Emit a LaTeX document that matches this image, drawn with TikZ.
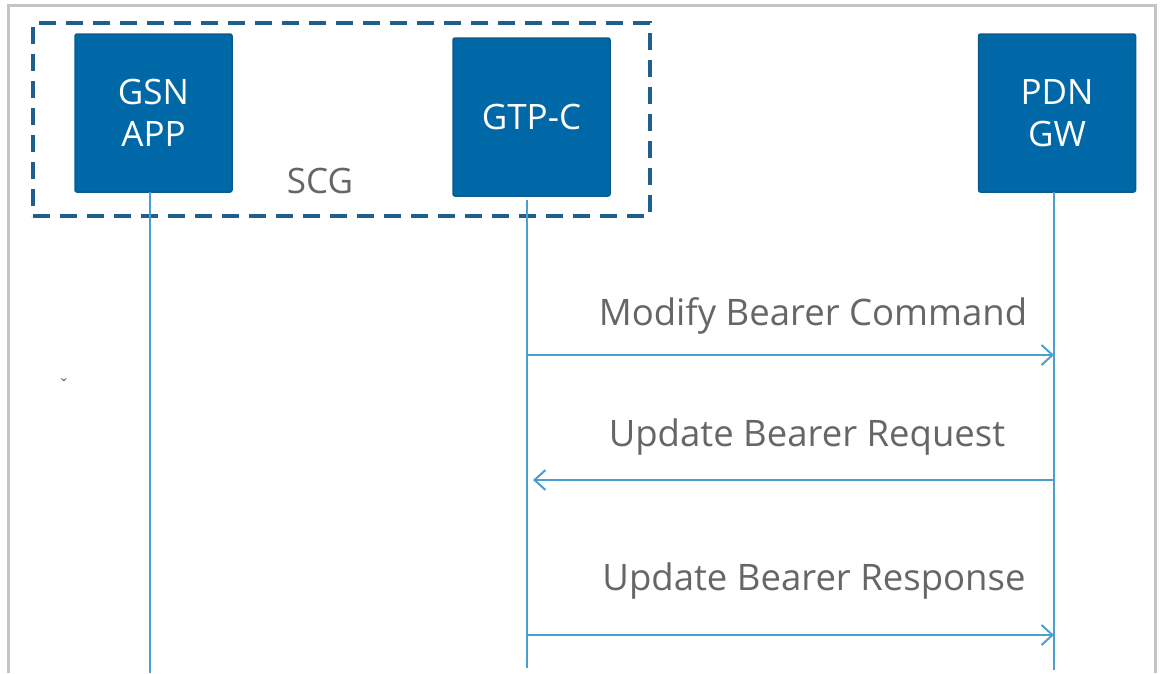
\documentclass[tikz,border=0pt]{standalone}
\usepackage{fontspec}
\setmainfont{Open Sans}
\usetikzlibrary{arrows.meta}
\definecolor{boxblue}{HTML}{0068A6}
\definecolor{boxedge}{HTML}{0B5C8C}
\definecolor{dashblue}{HTML}{1E5F8C}
\definecolor{lifeblue}{HTML}{4A9FD0}
\definecolor{txtgray}{HTML}{666666}
\definecolor{framegray}{HTML}{C4C4C4}
\tikzset{
  entity/.style={fill=boxblue, draw=boxedge, line width=1.5pt, rounded corners=2pt,
    minimum width=157pt, minimum height=158pt, text=white, align=center,
    font=\fontsize{35}{42}\selectfont, inner sep=0pt},
  scgbox/.style={draw=dashblue, line width=3.5pt, dash pattern=on 17pt off 10pt,
    minimum width=617pt, minimum height=193pt, inner sep=0pt},
  lifeline/.style={draw=lifeblue, line width=2.5pt},
  msg/.style={draw=lifeblue, line width=2pt, -{Straight Barb[length=11pt, width=20pt, line width=2pt]}},
  msglabel/.style={text=txtgray, font=\fontsize{36.5}{42}\selectfont, inner sep=0pt},
}
\begin{document}
\begin{tikzpicture}[x=1pt, y=-1pt]
\useasboundingbox (0,0) rectangle (1160,673);
\fill[white] (0,0) rectangle (1160,673);
% outer frame (open at bottom)
\draw[framegray, line width=3pt] (8,673) -- (8,5) -- (1155,5) -- (1155,673);
% SCG group
\node[scgbox] (scg) at (341.5,119.5) {};
\node[text=txtgray, font=\fontsize{35}{42}\selectfont, inner sep=0pt] (scglabel) at (320,181) {SCG};
% entities
\node[entity] (gsn) at (153.5,113) {GSN\\APP};
\node[entity] (gtp) at (531.5,117) {GTP-C};
\node[entity] (pdn) at (1057,113) {PDN\\GW};
% lifeline coordinates
\coordinate (gsnT) at (150,192);
\coordinate (gsnB) at (150,673);
\coordinate (gtpT) at (527,200);
\coordinate (gtpB) at (527,668);
\coordinate (pdnT) at (1054,192);
\coordinate (pdnB) at (1054,670);
\draw[lifeline] (gsnT) -- (gsnB);
\draw[lifeline] (gtpT) -- (gtpB);
\draw[lifeline] (pdnT) -- (pdnB);
% message anchors
\coordinate (m1a) at (527,355);
\coordinate (m1b) at (1054,355);
\coordinate (m2a) at (1054,480);
\coordinate (m2b) at (533,480);
\coordinate (m3a) at (527,635);
\coordinate (m3b) at (1054,635);
\draw[msg] (m1a) -- (m1b);
\draw[msg] (m2a) -- (m2b);
\draw[msg] (m3a) -- (m3b);
\node[msglabel] (l1) at (813,316) {Modify Bearer Command};
\node[msglabel] (l2) at (807,437) {Update Bearer Request};
\node[msglabel] (l3) at (814,581) {Update Bearer Response};
% stray mark
\node[text=txtgray, font=\fontsize{18}{20}\selectfont, inner sep=0pt] (mark) at (64,386) {ˇ};
\end{tikzpicture}
\end{document}
